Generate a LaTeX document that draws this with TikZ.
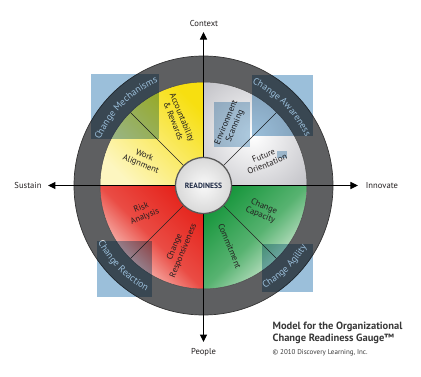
\documentclass[tikz,border=0pt]{standalone}
\usepackage{fontspec}
\setmainfont{PT Sans}
\usetikzlibrary{arrows.meta,decorations.text}
\definecolor{ringgray}{HTML}{5E5F61}
\definecolor{ylw}{HTML}{F7DF10}
\definecolor{ylwlight}{HTML}{FDF6C0}
\definecolor{rd}{HTML}{E5231B}
\definecolor{rdlight}{HTML}{FDF0EA}
\definecolor{grn}{HTML}{17963C}
\definecolor{grnlight}{HTML}{EEF6EC}
\definecolor{gry}{HTML}{C4C4C9}
\definecolor{sqblue}{HTML}{9BBFDA}
\definecolor{navy}{HTML}{1E2A45}
\definecolor{txt}{HTML}{231F20}
\begin{document}
\begin{tikzpicture}[x=1pt,y=1pt,
  seglabel/.style={align=center, font=\fontsize{8.6}{9.4}\selectfont, text=txt, inner sep=0pt},
  axislabel/.style={font=\fontsize{8.6}{9}\selectfont, text=txt, inner sep=0pt},
  axisline/.style={line width=1pt, draw=black, {Triangle[length=7.5pt,width=7pt]}-{Triangle[length=7.5pt,width=7pt]}},
  divider/.style={line width=0.7pt, draw=black!85},
  captext/.style={anchor=west, inner sep=0pt, text=black!78},
  ringtext/.style={decorate, decoration={text along path, text align=center,
     text={|\fontsize{9.6}{10}\selectfont\color{white}|#1}}},
]
\useasboundingbox (-203.5,-190.5) rectangle (217.5,185.5);
\coordinate (o) at (0,0);
% quadrants
\begin{scope}
\clip (0,0) -- (90:103.5) arc[start angle=90,end angle=180,radius=103.5] -- cycle;
\shade[top color=ylw, bottom color=ylwlight, shading angle=-45] (-103.5,0) rectangle (0,103.5);
\end{scope}
\begin{scope}
\clip (0,0) -- (0:103.5) arc[start angle=0,end angle=90,radius=103.5] -- cycle;
\shade[inner color=white, outer color=gry] (-20,-20) rectangle (120,120);
\end{scope}
\begin{scope}
\clip (0,0) -- (180:103.5) arc[start angle=180,end angle=270,radius=103.5] -- cycle;
\shade[top color=rd, bottom color=rdlight, middle color=rd!80!rdlight, shading angle=-45] (-103.5,-103.5) rectangle (0,0);
\end{scope}
\begin{scope}
\clip (0,0) -- (270:103.5) arc[start angle=270,end angle=360,radius=103.5] -- cycle;
\shade[top color=grn, bottom color=grnlight, middle color=grn!70!grnlight, shading angle=45] (0,-103.5) rectangle (103.5,0);
\end{scope}
% dividers
\foreach \a/\n in {45/d1,135/d2,225/d3,315/d4}{
  \coordinate (\n) at (\a:103.5);
  \draw[divider] (o) -- (\n);
}
% ring
\fill[ringgray, even odd rule] (o) circle[radius=129.5] (o) circle[radius=103.5];
\draw[black!80, line width=0.7pt] (o) circle[radius=129.5];
\draw[black!70, line width=0.5pt] (o) circle[radius=103.5];
% ring texts
\path[ringtext={Change Mechanisms}] (172:113) arc[start angle=172,end angle=98,radius=113];
\path[ringtext={Change Awareness}] (82:113) arc[start angle=82,end angle=8,radius=113];
\path[ringtext={Change Reaction}] (188:120) arc[start angle=188,end angle=262,radius=120];
\path[ringtext={Change Agility}] (-82:120) arc[start angle=-82,end angle=-8,radius=120];
% axes
\coordinate (ntip) at (0,153.5);
\coordinate (stip) at (0,-156.5);
\coordinate (wtip) at (-155.5,0);
\coordinate (etip) at (154.5,0);
\draw[axisline] (stip) -- (ntip);
\draw[axisline] (wtip) -- (etip);
\node[axislabel] (context) at (0.5,162.5) {Context};
\node[axislabel] (people) at (0,-166.5) {People};
\node[axislabel] (sustain) at (-175.5,0) {Sustain};
\node[axislabel] (innovate) at (178.5,0) {Innovate};
% segment labels
\node[seglabel, rotate=-22.5] (work) at (157.5:66) {Work\\Alignment};
\node[seglabel, rotate=-67.5] (acc) at (111:71) {Accountability\\\&~Rewards};
\node[seglabel, rotate=67.5] (env) at (66:67) {Environment\\Scanning};
\node[seglabel, rotate=22.5] (fut) at (22.5:67) {Future\\Orientation};
\node[seglabel, rotate=-22.5] (cap) at (-23.5:64) {Change\\Capacity};
\node[seglabel, rotate=-67.5] (com) at (-66.5:66) {Commitment};
\node[seglabel, rotate=67.5] (resp) at (-111:68) {Change\\Responsiveness};
\node[seglabel, rotate=22.5] (risk) at (-156:66) {Risk\\Analysis};
% center
\node[circle, minimum size=56pt, inner sep=0pt, shade, inner color=gray!5, outer color=gray!30,
      draw=black!65, line width=1.3pt, font=\fontsize{7.6}{8}\selectfont\bfseries, text=navy] (ready) at (o) {READINESS};
% blue highlight squares
\begin{scope}[blend mode=multiply]
\fill[sqblue] (-112.5,46.5) rectangle (-44.5,111.5);
\fill[sqblue] (48.5,49.5) rectangle (109.5,110.5);
\fill[sqblue!80] (10.5,38.5) rectangle (46.5,83.5);
\fill[sqblue!80] (73.5,27.5) rectangle (83.5,34.5);
\fill[sqblue] (-106.5,-111.5) rectangle (-51.5,-55.5);
\fill[sqblue] (58.5,-106.5) rectangle (109.5,-58.5);
\end{scope}
% caption
\node[captext, font=\fontsize{10.5}{11}\selectfont\bfseries] (cap1) at (69,-141) {Model for the Organizational};
\node[captext, font=\fontsize{10.5}{11}\selectfont\bfseries] (cap2) at (69,-153.5) {Change Readiness Gauge™};
\node[captext, font=\fontsize{7}{8}\selectfont] (cap3) at (69,-167.5) {© 2010 Discovery Learning, Inc.};
\end{tikzpicture}
\end{document}
